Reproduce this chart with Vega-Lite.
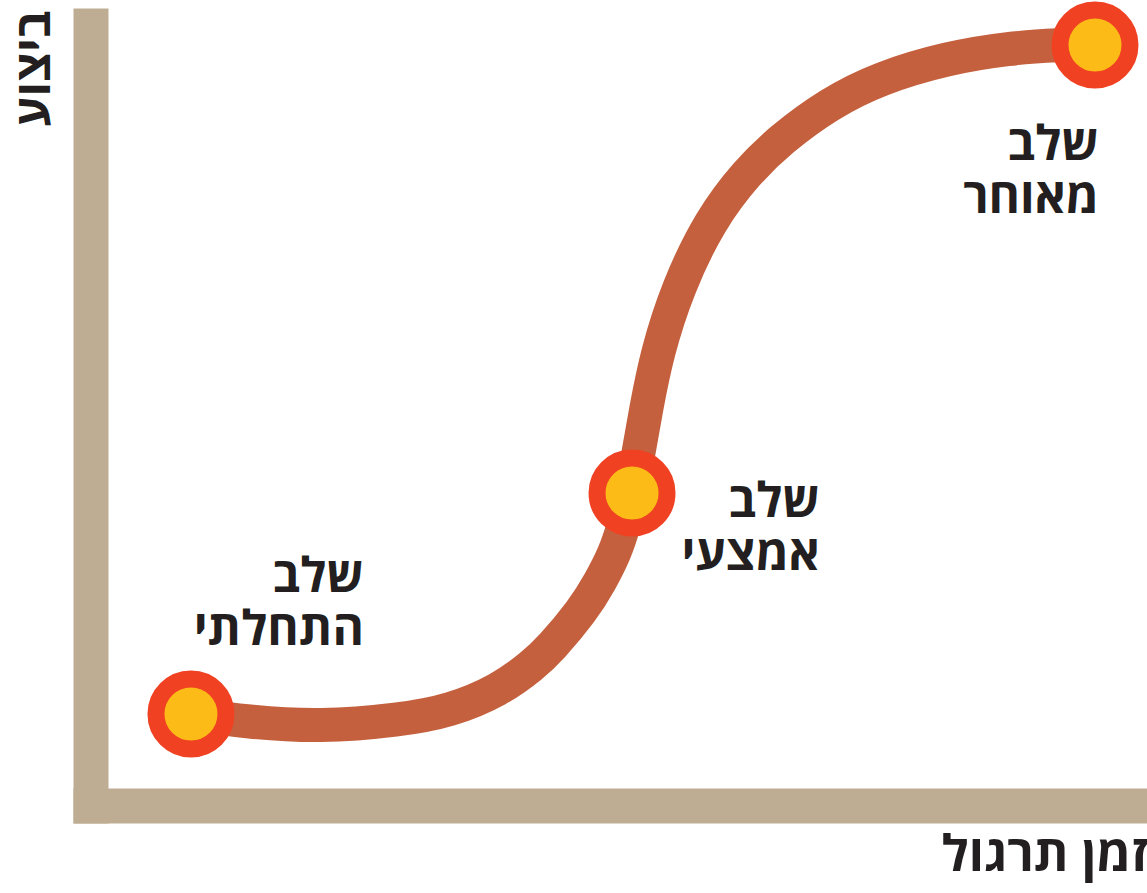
{
  "$schema": "https://vega.github.io/schema/vega-lite/v6.json",
  "autosize": {"type": "none"},
  "padding": {"left": 90.5, "top": 25.5, "right": 17.5, "bottom": 87.5},
  "width": 1039,
  "height": 780,
  "background": "white",
  "config": {
    "view": {"stroke": null},
    "font": "Open Sans",
    "axis": {
      "grid": false,
      "ticks": false,
      "labels": false,
      "domainWidth": 35,
      "domainColor": "#BEAD92",
      "domainCap": "square",
      "titleFont": "Open Sans",
      "titleFontSize": 50,
      "titleFontWeight": "bold",
      "titleColor": "#231F20"
    }
  },
  "datasets": {
    "curve": [
      {"time": 9.67, "perf": 11.73},
      {"time": 15.06, "perf": 10.71},
      {"time": 22.09, "perf": 10.06},
      {"time": 29.79, "perf": 10.96},
      {"time": 34.60, "perf": 12.12},
      {"time": 39.41, "perf": 14.81},
      {"time": 42.59, "perf": 18.01},
      {"time": 44.23, "perf": 20.06},
      {"time": 47.40, "perf": 25.06},
      {"time": 49.04, "perf": 28.65},
      {"time": 50.48, "perf": 32.37},
      {"time": 51.35, "perf": 35.96},
      {"time": 52.12, "perf": 40.06},
      {"time": 52.69, "perf": 44.94},
      {"time": 53.46, "perf": 50.71},
      {"time": 54.52, "perf": 58.01},
      {"time": 56.54, "perf": 66.47},
      {"time": 59.62, "perf": 75.06},
      {"time": 63.19, "perf": 81.22},
      {"time": 66.36, "perf": 85.32},
      {"time": 71.17, "perf": 90.06},
      {"time": 75.99, "perf": 93.27},
      {"time": 82.44, "perf": 95.83},
      {"time": 88.50, "perf": 97.12},
      {"time": 93.31, "perf": 97.50},
      {"time": 96.68, "perf": 97.63}
    ],
    "stages": [
      {"time": 9.67, "perf": 11.73},
      {"time": 52.12, "perf": 40.06},
      {"time": 96.68, "perf": 97.5}
    ],
    "labels": [
      {"time": 26.32, "perf": 27.37, "label": "שלב\nהתחלתי"},
      {"time": 70.21, "perf": 36.99, "label": "שלב\nאמצעי"},
      {"time": 97.06, "perf": 82.76, "label": "שלב\nמאוחר"}
    ]
  },
  "encoding": {
    "x": {
      "field": "time",
      "type": "quantitative",
      "scale": {"domain": [0, 100], "nice": false},
      "axis": {
        "title": "זמן תרגול",
        "titleAlign": "right",
        "titleBaseline": "alphabetic",
        "titleX": 1057,
        "titleY": 64.5,
        "titleAngle": 0
      }
    },
    "y": {
      "field": "perf",
      "type": "quantitative",
      "scale": {"domain": [0, 100], "nice": false},
      "axis": {
        "title": "ביצוע",
        "titleFontSize": 48,
        "titleAngle": -90,
        "titleAlign": "right",
        "titleBaseline": "alphabetic",
        "titleX": -41.5,
        "titleY": -15.5
      }
    }
  },
  "layer": [
    {
      "data": {"name": "curve"},
      "mark": {"type": "line", "interpolate": "basis", "color": "#C4603D", "strokeWidth": 34, "strokeCap": "butt"}
    },
    {
      "data": {"name": "stages"},
      "mark": {"type": "point", "shape": "circle", "filled": true, "fill": "#FCBB16", "stroke": "#F04123", "strokeWidth": 17, "size": 4900, "opacity": 1, "fillOpacity": 1, "strokeOpacity": 1}
    },
    {
      "data": {"name": "labels"},
      "mark": {"type": "text", "align": "right", "baseline": "alphabetic", "lineBreak": "\n", "lineHeight": 53, "font": "Open Sans", "fontSize": 48, "fontWeight": "bold", "color": "#231F20"},
      "encoding": {"text": {"field": "label", "type": "nominal"}}
    }
  ]
}
